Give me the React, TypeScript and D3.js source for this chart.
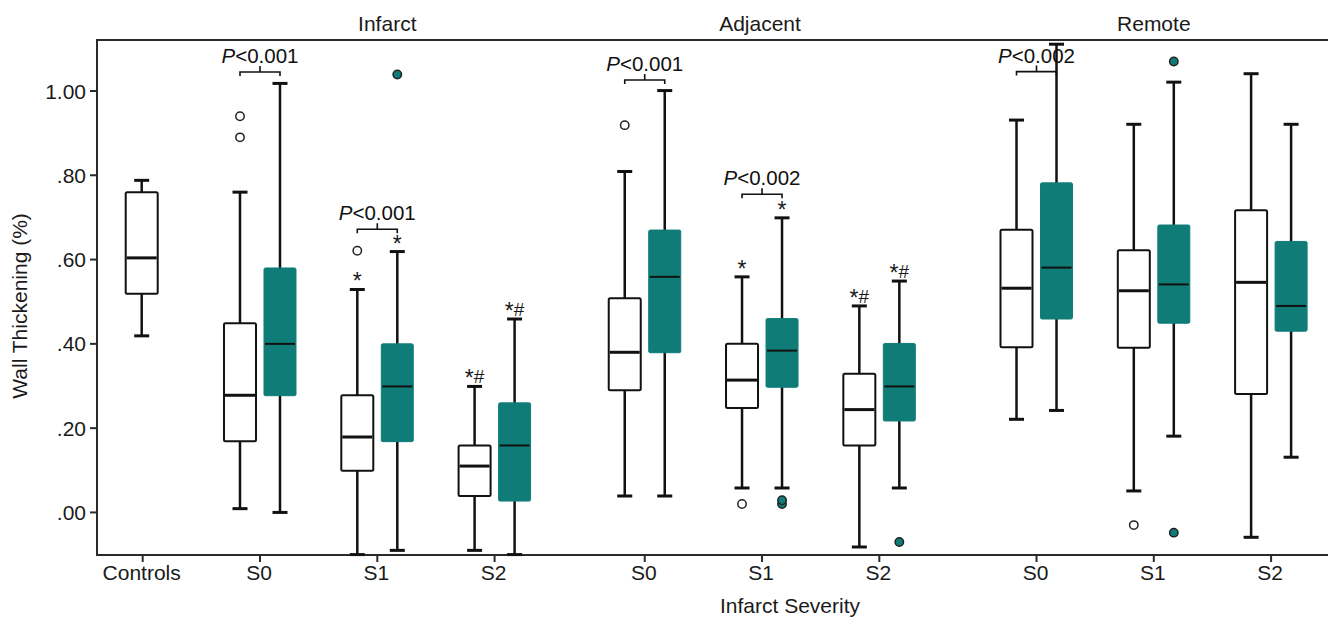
import React, { useEffect, useRef } from 'react';
import * as d3 from 'd3';

// regions shown as panels across the top
const regions = ['Infarct', 'Adjacent', 'Remote'];
// tick labels along the x axis, per region
const categories = [
  { region: 'Infarct', labels: ['Controls', 'S0', 'S1', 'S2'] },
  { region: 'Adjacent', labels: ['S0', 'S1', 'S2'] },
  { region: 'Remote', labels: ['S0', 'S1', 'S2'] },
];
const yTicks = [0, 0.2, 0.4, 0.6, 0.8, 1.0];
const yTickLabels = ['.00', '.20', '.40', '.60', '.80', '1.00'];

// [whisker low, q1, median, q3, whisker high]
const controls = { stats: [0.419, 0.519, 0.604, 0.76, 0.788], outliers: [] as number[], mark: '' };

const seriesA = [ // white boxes
  { region: 'Infarct', cat: 'S0', stats: [0.009, 0.169, 0.278, 0.449, 0.76], outliers: [0.89, 0.94], mark: '' },
  { region: 'Infarct', cat: 'S1', stats: [-0.1, 0.099, 0.179, 0.278, 0.529], outliers: [0.621], mark: '*' },
  { region: 'Infarct', cat: 'S2', stats: [-0.09, 0.039, 0.11, 0.159, 0.299], outliers: [], mark: '*#' },
  { region: 'Adjacent', cat: 'S0', stats: [0.039, 0.29, 0.38, 0.508, 0.809], outliers: [0.919], mark: '' },
  { region: 'Adjacent', cat: 'S1', stats: [0.058, 0.248, 0.314, 0.4, 0.559], outliers: [0.02], mark: '*' },
  { region: 'Adjacent', cat: 'S2', stats: [-0.082, 0.159, 0.244, 0.329, 0.49], outliers: [], mark: '*#' },
  { region: 'Remote', cat: 'S0', stats: [0.221, 0.392, 0.532, 0.671, 0.931], outliers: [], mark: '' },
  { region: 'Remote', cat: 'S1', stats: [0.051, 0.391, 0.526, 0.622, 0.921], outliers: [-0.03], mark: '' },
  { region: 'Remote', cat: 'S2', stats: [-0.059, 0.281, 0.546, 0.717, 1.041], outliers: [], mark: '' },
];

const seriesB = [ // teal boxes
  { region: 'Infarct', cat: 'S0', stats: [0.0, 0.277, 0.4, 0.58, 1.018], outliers: [], mark: '' },
  { region: 'Infarct', cat: 'S1', stats: [-0.09, 0.168, 0.299, 0.4, 0.619], outliers: [1.039], mark: '*' },
  { region: 'Infarct', cat: 'S2', stats: [-0.1, 0.027, 0.159, 0.26, 0.459], outliers: [], mark: '*#' },
  { region: 'Adjacent', cat: 'S0', stats: [0.039, 0.379, 0.559, 0.67, 1.001], outliers: [], mark: '' },
  { region: 'Adjacent', cat: 'S1', stats: [0.058, 0.297, 0.384, 0.46, 0.699], outliers: [0.02, 0.029], mark: '*' },
  { region: 'Adjacent', cat: 'S2', stats: [0.058, 0.217, 0.299, 0.401, 0.549], outliers: [-0.07], mark: '*#' },
  { region: 'Remote', cat: 'S0', stats: [0.242, 0.459, 0.581, 0.782, 1.111], outliers: [], mark: '' },
  { region: 'Remote', cat: 'S1', stats: [0.181, 0.449, 0.541, 0.682, 1.021], outliers: [1.07, -0.048], mark: '' },
  { region: 'Remote', cat: 'S2', stats: [0.131, 0.43, 0.49, 0.643, 0.921], outliers: [], mark: '' },
];

// p-value brackets between white and teal box of one category
const comparisons = [
  { region: 'Infarct', cat: 'S0', level: 1.045, label: '<0.001' },
  { region: 'Infarct', cat: 'S1', level: 0.672, label: '<0.001' },
  { region: 'Adjacent', cat: 'S0', level: 1.026, label: '<0.001' },
  { region: 'Adjacent', cat: 'S1', level: 0.755, label: '<0.002' },
  { region: 'Remote', cat: 'S0', level: 1.046, label: '<0.002' },
];

const TEAL = '#0f7c78';
const W = 1328, H = 617;
const FONT = 'Liberation Sans, Arial, Helvetica, sans-serif';

export default function App() {
  const svgRef = useRef(null);

  useEffect(() => {
    const svg = d3.select(svgRef.current);
    svg.selectAll('*').remove();

    const margin = { top: 40, left: 97, bottom: 62 };
    const plotBottom = H - margin.bottom;

    // slot positions: categories laid out in sequence, extra gaps between regions
    const regionGap = [0, 0.28, 0.62];
    const slots: { region: string; label: string; pos: number }[] = [];
    let idx = 0;
    categories.forEach((c, gi) => {
      c.labels.forEach(l => {
        slots.push({ region: c.region, label: l, pos: idx + regionGap[gi] });
        idx++;
      });
    });
    const slotPos = (region: string, cat: string) =>
      slots.find(s => s.region === region && s.label === cat)!.pos;

    const x = d3.scaleLinear().domain([0, 9.62]).range([142.7, 1271.1]);
    const y = d3.scaleLinear().domain([-0.101, 1.121]).range([plotBottom, margin.top]);

    const pairOffset = 20;
    const boxW = 32;
    const capW = 15;

    // frame: left axis, bottom axis, top line
    const frame = svg.append('g').attr('stroke', '#2b2b2b').attr('stroke-width', 2).attr('fill', 'none');
    frame.append('path').attr('d', `M${W},${margin.top}H${margin.left}V${plotBottom}H${W}`);

    // y axis ticks
    const yAxis = svg.append('g');
    yTicks.forEach((t, i) => {
      yAxis.append('line')
        .attr('x1', margin.left - 7).attr('x2', margin.left)
        .attr('y1', y(t)).attr('y2', y(t))
        .attr('stroke', '#2b2b2b').attr('stroke-width', 2);
      yAxis.append('text')
        .attr('x', margin.left - 11).attr('y', y(t))
        .attr('dy', '0.36em')
        .attr('text-anchor', 'end')
        .attr('font-size', 21)
        .attr('font-family', FONT)
        .attr('fill', '#1a1a1a')
        .text(yTickLabels[i]);
    });

    // x axis ticks
    const xAxis = svg.append('g');
    slots.forEach(s => {
      xAxis.append('line')
        .attr('x1', x(s.pos)).attr('x2', x(s.pos))
        .attr('y1', plotBottom).attr('y2', plotBottom + 7)
        .attr('stroke', '#2b2b2b').attr('stroke-width', 2);
      xAxis.append('text')
        .attr('x', x(s.pos) - 1).attr('y', plotBottom + 25)
        .attr('text-anchor', 'middle')
        .attr('font-size', 21)
        .attr('font-family', FONT)
        .attr('fill', '#1a1a1a')
        .text(s.label);
    });

    // region titles
    const titleOffset = [10, -2, 0];
    regions.forEach((r, i) => {
      svg.append('text')
        .attr('x', x(slotPos(r, 'S1')) + titleOffset[i])
        .attr('y', 31)
        .attr('text-anchor', 'middle')
        .attr('font-size', 21)
        .attr('font-family', FONT)
        .attr('fill', '#1a1a1a')
        .text(r);
    });

    // axis titles
    svg.append('text')
      .attr('x', 790).attr('y', 613)
      .attr('text-anchor', 'middle')
      .attr('font-size', 21)
      .attr('font-family', FONT)
      .attr('fill', '#1a1a1a')
      .text('Infarct Severity');
    svg.append('text')
      .attr('transform', `translate(27,${y(0.49)}) rotate(-90)`)
      .attr('text-anchor', 'middle')
      .attr('font-size', 21)
      .attr('font-family', FONT)
      .attr('fill', '#1a1a1a')
      .text('Wall Thickening (%)');

    const drawBox = (g: any, cx: number, d: any, teal: boolean) => {
      const [lo, q1, med, q3, hi] = d.stats;
      // whisker
      g.append('line')
        .attr('x1', cx).attr('x2', cx)
        .attr('y1', y(hi)).attr('y2', y(lo))
        .attr('stroke', '#111').attr('stroke-width', 2.5);
      [lo, hi].forEach(v => {
        g.append('line')
          .attr('x1', cx - capW / 2).attr('x2', cx + capW / 2)
          .attr('y1', y(v)).attr('y2', y(v))
          .attr('stroke', '#111').attr('stroke-width', 3);
      });
      // box
      g.append('rect')
        .attr('x', cx - boxW / 2).attr('y', y(q3))
        .attr('width', boxW).attr('height', y(q1) - y(q3))
        .attr('rx', 1.5)
        .attr('fill', teal ? TEAL : '#fff')
        .attr('stroke', teal ? TEAL : '#111')
        .attr('stroke-width', teal ? 1 : 2);
      g.append('line')
        .attr('x1', cx - boxW / 2 + 1).attr('x2', cx + boxW / 2 - 1)
        .attr('y1', y(med)).attr('y2', y(med))
        .attr('stroke', '#111').attr('stroke-width', teal ? 2 : 3);
      // outliers
      d.outliers.forEach((v: number) => {
        g.append('circle')
          .attr('cx', cx).attr('cy', y(v)).attr('r', 4.2)
          .attr('fill', teal ? TEAL : '#fff')
          .attr('stroke', '#222').attr('stroke-width', 1.5);
      });
      // significance mark: the asterisk drawn a bit larger than the hash
      if (d.mark) {
        const t = g.append('text')
          .attr('x', cx).attr('y', y(hi) - 3)
          .attr('text-anchor', 'middle')
          .attr('font-family', FONT)
          .attr('fill', '#1a1a1a');
        t.append('tspan').attr('font-size', 23).attr('dy', 3).text('*');
        if (d.mark.length > 1) t.append('tspan').attr('font-size', 19).attr('dy', -3).text(d.mark.slice(1));
      }
    };

    const boxes = svg.append('g');
    drawBox(boxes.append('g'), x(slotPos('Infarct', 'Controls')) - 1, controls, false);
    seriesA.forEach(d => drawBox(boxes.append('g'), x(slotPos(d.region, d.cat)) - pairOffset, d, false));
    seriesB.forEach(d => drawBox(boxes.append('g'), x(slotPos(d.region, d.cat)) + pairOffset, d, true));

    // p-value brackets
    const br = svg.append('g');
    comparisons.forEach(c => {
      const cx = x(slotPos(c.region, c.cat));
      const x1 = cx - pairOffset, x2 = cx + pairOffset;
      const yy = y(c.level);
      br.append('path')
        .attr('d', `M${x1},${yy + 4}V${yy}H${x2}V${yy + 4}M${cx},${yy}V${yy - 6}`)
        .attr('fill', 'none').attr('stroke', '#111').attr('stroke-width', 1.6);
      const t = br.append('text')
        .attr('x', cx).attr('y', yy - 9)
        .attr('text-anchor', 'middle')
        .attr('font-size', 20.5)
        .attr('font-family', FONT)
        .attr('fill', '#111');
      t.append('tspan').attr('font-style', 'italic').text('P');
      t.append('tspan').text(c.label);
    });
  }, []);

  return (
    <svg
      ref={svgRef}
      width={W}
      height={H}
      style={{ position: 'absolute', left: 0, top: 0, background: '#fff' }}
    />
  );
}
